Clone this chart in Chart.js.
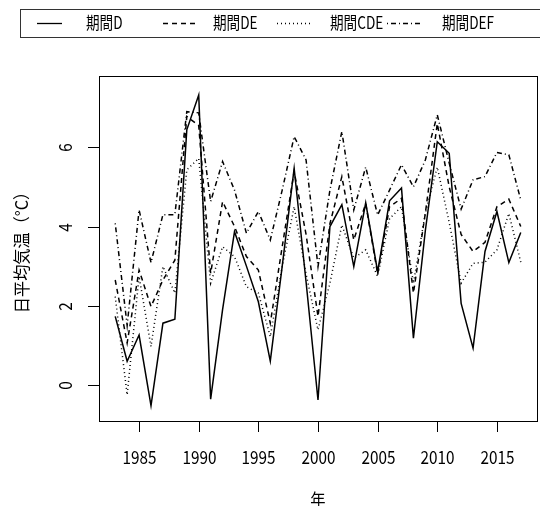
<!DOCTYPE html>
<html>
<head>
<meta charset="utf-8">
<script src="https://cdn.jsdelivr.net/npm/chart.js@4/dist/chart.umd.min.js"></script>
<style>
  html, body { margin: 0; padding: 0; background: #fff; }
  canvas { display: block; }
</style>
</head>
<body>
<canvas id="tempChart" width="540" height="506"></canvas>
<script>
const years = [1983, 1984, 1985, 1986, 1987, 1988, 1989, 1990, 1991, 1992,
               1993, 1994, 1995, 1996, 1997, 1998, 1999, 2000, 2001, 2002,
               2003, 2004, 2005, 2006, 2007, 2008, 2009, 2010, 2011, 2012,
               2013, 2014, 2015, 2016, 2017];

const periodD   = [1.73, 0.60, 1.26, -0.52, 1.56, 1.66, 6.44, 7.32, -0.36, 1.90,
                   3.87, 3.00, 2.10, 0.60, 3.00, 5.47, 2.60, -0.38, 4.00, 4.55,
                   2.99, 4.60, 2.86, 4.65, 4.97, 1.18, 3.90, 6.14, 5.85, 2.06,
                   0.93, 3.37, 4.38, 3.09, 3.85];
const periodDE  = [2.65, 1.06, 2.90, 1.98, 2.65, 3.15, 6.78, 6.55, 2.82, 4.63,
                   4.00, 3.24, 2.90, 1.56, 3.49, 5.39, 3.80, 1.73, 4.07, 5.26,
                   3.66, 4.58, 2.80, 4.50, 4.71, 2.32, 4.34, 6.60, 5.00, 3.80,
                   3.37, 3.60, 4.50, 4.69, 4.00];
const periodCDE = [2.23, -0.25, 2.74, 0.97, 2.99, 2.32, 5.43, 5.72, 2.57, 3.49,
                   3.24, 2.48, 2.32, 1.22, 2.99, 4.50, 2.80, 1.39, 2.57, 4.04,
                   3.20, 3.41, 2.74, 4.20, 4.50, 2.57, 4.34, 5.50, 4.10, 2.57,
                   3.07, 3.10, 3.41, 4.33, 3.10];
const periodDEF = [4.08, 1.50, 4.42, 3.09, 4.30, 4.30, 6.90, 6.87, 4.63, 5.64,
                   4.92, 3.83, 4.38, 3.66, 4.92, 6.27, 5.68, 2.99, 4.92, 6.40,
                   4.42, 5.50, 4.29, 4.92, 5.56, 5.00, 5.68, 6.82, 5.60, 4.44,
                   5.18, 5.26, 5.87, 5.81, 4.67];

const seriesNames = ['期間D', '期間DE', '期間CDE', '期間DEF'];
const xTicks = [1985, 1990, 1995, 2000, 2005, 2010, 2015];
const yTicks = [0, 2, 4, 6];
const xTitle = '年';
const yTitle = '日平均気温（°C）';

const dashes = [[], [5, 4], [1, 3], [1, 3, 5, 3]];
const FONT = '"Noto Sans CJK JP", "Noto Sans", sans-serif';

function drawText(ctx, text, px, py, size, rot, align, squeeze) {
    ctx.save();
    ctx.translate(px, py);
    if (rot) ctx.rotate(rot);
    ctx.scale(squeeze || 0.8, 1);
    ctx.font = size + 'px ' + FONT;
    ctx.fillStyle = '#000';
    ctx.textAlign = align || 'center';
    ctx.textBaseline = 'middle';
    ctx.fillText(text, 0, 0);
    ctx.restore();
}

const rStyle = {
    id: 'rStyle',
    afterDraw(chart) {
        const { ctx, chartArea: a, scales: { x, y } } = chart;
        ctx.save();
        ctx.strokeStyle = '#000';
        ctx.lineWidth = 1;
        ctx.setLineDash([]);
        ctx.strokeRect(Math.round(a.left) + 0.5, Math.round(a.top) + 0.5,
                       Math.round(a.right - a.left), Math.round(a.bottom - a.top));

        // x axis ticks and labels
        xTicks.forEach(v => {
            const px = Math.round(x.getPixelForValue(v)) + 0.5;
            ctx.beginPath();
            ctx.moveTo(px, a.bottom);
            ctx.lineTo(px, a.bottom + 11);
            ctx.stroke();
            drawText(ctx, String(v), px, a.bottom + 36, 18, 0, 'center', 0.85);
        });

        // y axis ticks and labels
        yTicks.forEach(v => {
            const py = Math.round(y.getPixelForValue(v)) + 0.5;
            ctx.beginPath();
            ctx.moveTo(a.left, py);
            ctx.lineTo(a.left - 11, py);
            ctx.stroke();
            drawText(ctx, String(v), a.left - 34, py, 18, -Math.PI / 2, 'center', 0.85);
        });

        drawText(ctx, xTitle, (a.left + a.right) / 2, 500, 17, 0, 'center', 0.9);
        drawText(ctx, yTitle, 22, (a.top + a.bottom) / 2, 17, -Math.PI / 2, 'center', 0.95);

        // legend box
        ctx.strokeStyle = '#333';
        ctx.strokeRect(20.5, 9.5, 600, 28);
        const sampleX = [37, 163, 277, 387];
        const sampleW = [25, 32, 35, 35];
        const textX = [86, 213, 330, 442];
        seriesNames.forEach((name, i) => {
            ctx.strokeStyle = '#000';
            ctx.lineWidth = 1.3;
            ctx.setLineDash(dashes[i]);
            ctx.beginPath();
            ctx.moveTo(sampleX[i], 23.5);
            ctx.lineTo(sampleX[i] + sampleW[i], 23.5);
            ctx.stroke();
            drawText(ctx, name, textX[i], 23, 17, 0, 'left', 0.8);
        });
        ctx.restore();
    }
};

function makeSet(label, values, i) {
    return {
        label: label,
        data: years.map((yr, k) => ({ x: yr, y: values[k] })),
        borderColor: '#000',
        borderWidth: 1.5,
        borderDash: dashes[i],
        pointRadius: 0,
        tension: 0,
        fill: false
    };
}

const allSeries = [periodD, periodDE, periodCDE, periodDEF];

new Chart(document.getElementById('tempChart').getContext('2d'), {
    type: 'line',
    data: {
        datasets: allSeries.map((vals, i) => makeSet(seriesNames[i], vals, i))
    },
    options: {
        responsive: false,
        animation: false,
        layout: { padding: { top: 76, right: 3, left: 0, bottom: 0 } },
        plugins: {
            legend: { display: false },
            tooltip: { enabled: false }
        },
        scales: {
            x: {
                type: 'linear',
                min: 1981.64,
                max: 2018.36,
                grid: { display: false },
                border: { display: false },
                ticks: { display: false },
                afterFit: s => { s.height = 85; }
            },
            y: {
                type: 'linear',
                min: -0.91,
                max: 7.80,
                grid: { display: false },
                border: { display: false },
                ticks: { display: false },
                afterFit: s => { s.width = 99; }
            }
        }
    },
    plugins: [rStyle]
});
</script>
</body>
</html>
